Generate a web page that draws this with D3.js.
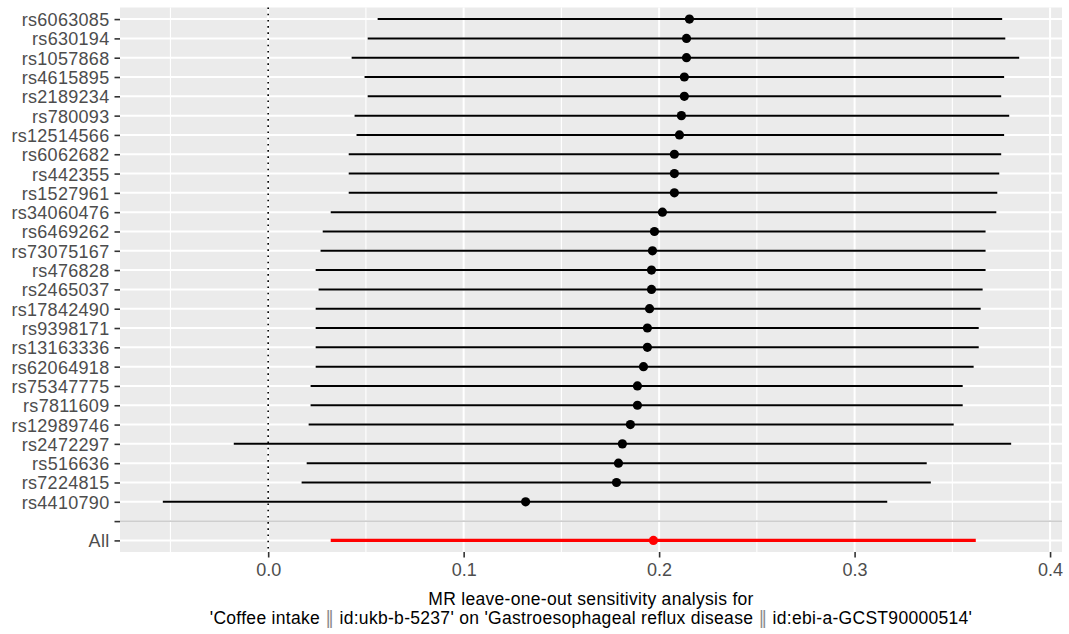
<!DOCTYPE html>
<html>
<head>
<meta charset="utf-8">
<script src="https://cdn.jsdelivr.net/npm/d3@7"></script>
<style>
  body { margin: 0; background: #ffffff; }
  text { font-family: "Liberation Sans", Arial, sans-serif; }
</style>
</head>
<body>
<svg id="chart" width="1069" height="634"></svg>
<script>
// Leave-one-out estimates: each SNP label is the variant removed from the analysis.
const snps = [
  "rs6063085", "rs630194", "rs1057868", "rs4615895", "rs2189234", "rs780093",
  "rs12514566", "rs6062682", "rs442355", "rs1527961", "rs34060476", "rs6469262",
  "rs73075167", "rs476828", "rs2465037", "rs17842490", "rs9398171", "rs13163336",
  "rs62064918", "rs75347775", "rs7811609", "rs12989746", "rs2472297", "rs516636",
  "rs7224815", "rs4410790"
];
const estimates = [
  0.2155, 0.2140, 0.2140, 0.2129, 0.2129, 0.2114,
  0.2104, 0.2078, 0.2078, 0.2078, 0.2017, 0.1976,
  0.1966, 0.1961, 0.1961, 0.1951, 0.1940, 0.1940,
  0.1920, 0.1889, 0.1889, 0.1853, 0.1812, 0.1792,
  0.1782, 0.1317
];
const lowerCI = [
  0.0560, 0.0509, 0.0427, 0.0493, 0.0509, 0.0442,
  0.0452, 0.0412, 0.0412, 0.0412, 0.0320, 0.0279,
  0.0268, 0.0243, 0.0258, 0.0243, 0.0243, 0.0243,
  0.0243, 0.0217, 0.0217, 0.0207, -0.0176, 0.0197,
  0.0171, -0.0539
];
const upperCI = [
  0.3755, 0.3771, 0.3842, 0.3765, 0.3750, 0.3791,
  0.3765, 0.3750, 0.3740, 0.3730, 0.3725, 0.3670,
  0.3670, 0.3670, 0.3655, 0.3645, 0.3635, 0.3635,
  0.3609, 0.3553, 0.3553, 0.3507, 0.3801, 0.3369,
  0.3390, 0.3167
];

// Estimate using all SNPs
const allLabel = "All";
const allEstimate = 0.1971;
const allLower = 0.0320;
const allUpper = 0.3620;

const xTickValues = [0.0, 0.1, 0.2, 0.3, 0.4];
const xMinorValues = [-0.05, 0.05, 0.15, 0.25, 0.35];
const titleLine1 = "MR leave-one-out sensitivity analysis for";
const titleExposure = "'Coffee intake ";
const titleMid = " id:ukb-b-5237' on 'Gastroesophageal reflux disease ";
const titleEnd = " id:ebi-a-GCST90000514'";
const separator = "\u2016";

const svg = d3.select("#chart");
const panel = { left: 120, right: 1062, top: 7.5, bottom: 552 };

// x domain: data range expanded by 5% on each side
const allLo = d3.min([...lowerCI, allLower]);
const allHi = d3.max([...upperCI, allUpper]);
const pad = (allHi - allLo) * 0.05;
const x = d3.scaleLinear().domain([allLo - pad, allHi + pad]).range([panel.left, panel.right]);

// y: SNPs on top, an empty spacer row, then the combined estimate
const rows = [...snps, "", allLabel];
const y = d3.scalePoint().domain(rows).range([panel.top, panel.bottom]).padding(0.6);

// panel background
svg.append("rect")
  .attr("x", panel.left).attr("y", panel.top)
  .attr("width", panel.right - panel.left).attr("height", panel.bottom - panel.top)
  .attr("fill", "#EBEBEB");

// grid
const grid = svg.append("g");
grid.selectAll(".minor").data(xMinorValues).enter().append("line")
  .attr("x1", d => x(d)).attr("x2", d => x(d))
  .attr("y1", panel.top).attr("y2", panel.bottom)
  .attr("stroke", "#ffffff").attr("stroke-width", 1.1);
grid.selectAll(".majorx").data(xTickValues).enter().append("line")
  .attr("x1", d => x(d)).attr("x2", d => x(d))
  .attr("y1", panel.top).attr("y2", panel.bottom)
  .attr("stroke", "#ffffff").attr("stroke-width", 2);
grid.selectAll(".majory").data(rows).enter().append("line")
  .attr("x1", panel.left).attr("x2", panel.right)
  .attr("y1", d => y(d)).attr("y2", d => y(d))
  .attr("stroke", "#ffffff").attr("stroke-width", 2);

// separator between leave-one-out rows and the combined estimate
svg.append("line")
  .attr("x1", panel.left).attr("x2", panel.right)
  .attr("y1", y("")).attr("y2", y(""))
  .attr("stroke", "#BEBEBE").attr("stroke-width", 1.3);

// null effect reference line
svg.append("line")
  .attr("x1", x(0)).attr("x2", x(0))
  .attr("y1", panel.top).attr("y2", panel.bottom)
  .attr("stroke", "#000000").attr("stroke-width", 1.6)
  .attr("stroke-dasharray", "1.6,4.6");

// leave-one-out intervals and points
const marks = svg.append("g");
marks.selectAll(".ci").data(snps).enter().append("line")
  .attr("x1", (d, i) => x(lowerCI[i])).attr("x2", (d, i) => x(upperCI[i]))
  .attr("y1", d => y(d)).attr("y2", d => y(d))
  .attr("stroke", "#000000").attr("stroke-width", 2);
marks.selectAll(".pt").data(snps).enter().append("circle")
  .attr("cx", (d, i) => x(estimates[i])).attr("cy", d => y(d))
  .attr("r", 4.6).attr("fill", "#000000");

// combined estimate
svg.append("line")
  .attr("x1", x(allLower)).attr("x2", x(allUpper))
  .attr("y1", y(allLabel)).attr("y2", y(allLabel))
  .attr("stroke", "#FF0000").attr("stroke-width", 3.2);
svg.append("circle")
  .attr("cx", x(allEstimate)).attr("cy", y(allLabel))
  .attr("r", 4.6).attr("fill", "#FF0000");

// y axis
const yAxis = svg.append("g").attr("transform", `translate(${panel.left},0)`)
  .call(d3.axisLeft(y).tickSize(5.5).tickPadding(5));
yAxis.select(".domain").remove();
yAxis.selectAll(".tick line").attr("stroke", "#333333").attr("stroke-width", 1.6);
yAxis.selectAll(".tick text")
  .attr("fill", "#4D4D4D").attr("font-size", 18)
  .attr("letter-spacing", 0.3)
  .attr("font-family", "'Liberation Sans', Arial, sans-serif")
  .attr("dy", "0.36em");

// x axis
const xAxis = svg.append("g").attr("transform", `translate(0,${panel.bottom})`)
  .call(d3.axisBottom(x).tickValues(xTickValues).tickFormat(d3.format(".1f")).tickSize(5.5).tickPadding(6));
xAxis.select(".domain").remove();
xAxis.selectAll(".tick line").attr("stroke", "#333333").attr("stroke-width", 1.6);
xAxis.selectAll(".tick text")
  .attr("fill", "#4D4D4D").attr("font-size", 18)
  .attr("font-family", "'Liberation Sans', Arial, sans-serif");

// axis title (two lines)
const cx = (panel.left + panel.right) / 2;
svg.append("text")
  .attr("x", cx).attr("y", 605)
  .attr("text-anchor", "middle").attr("font-size", 17.5).attr("letter-spacing", 0.3).attr("fill", "#000000")
  .text(titleLine1);
const t2 = svg.append("text")
  .attr("x", cx).attr("y", 624)
  .attr("text-anchor", "middle").attr("font-size", 17.5).attr("letter-spacing", 0.3).attr("fill", "#000000");
t2.append("tspan").text(titleExposure);
t2.append("tspan").attr("fill", "#8C8C8C").attr("font-family", "'DejaVu Sans', sans-serif").text(separator);
t2.append("tspan").text(titleMid);
t2.append("tspan").attr("fill", "#8C8C8C").attr("font-family", "'DejaVu Sans', sans-serif").text(separator);
t2.append("tspan").text(titleEnd);
</script>
</body>
</html>
